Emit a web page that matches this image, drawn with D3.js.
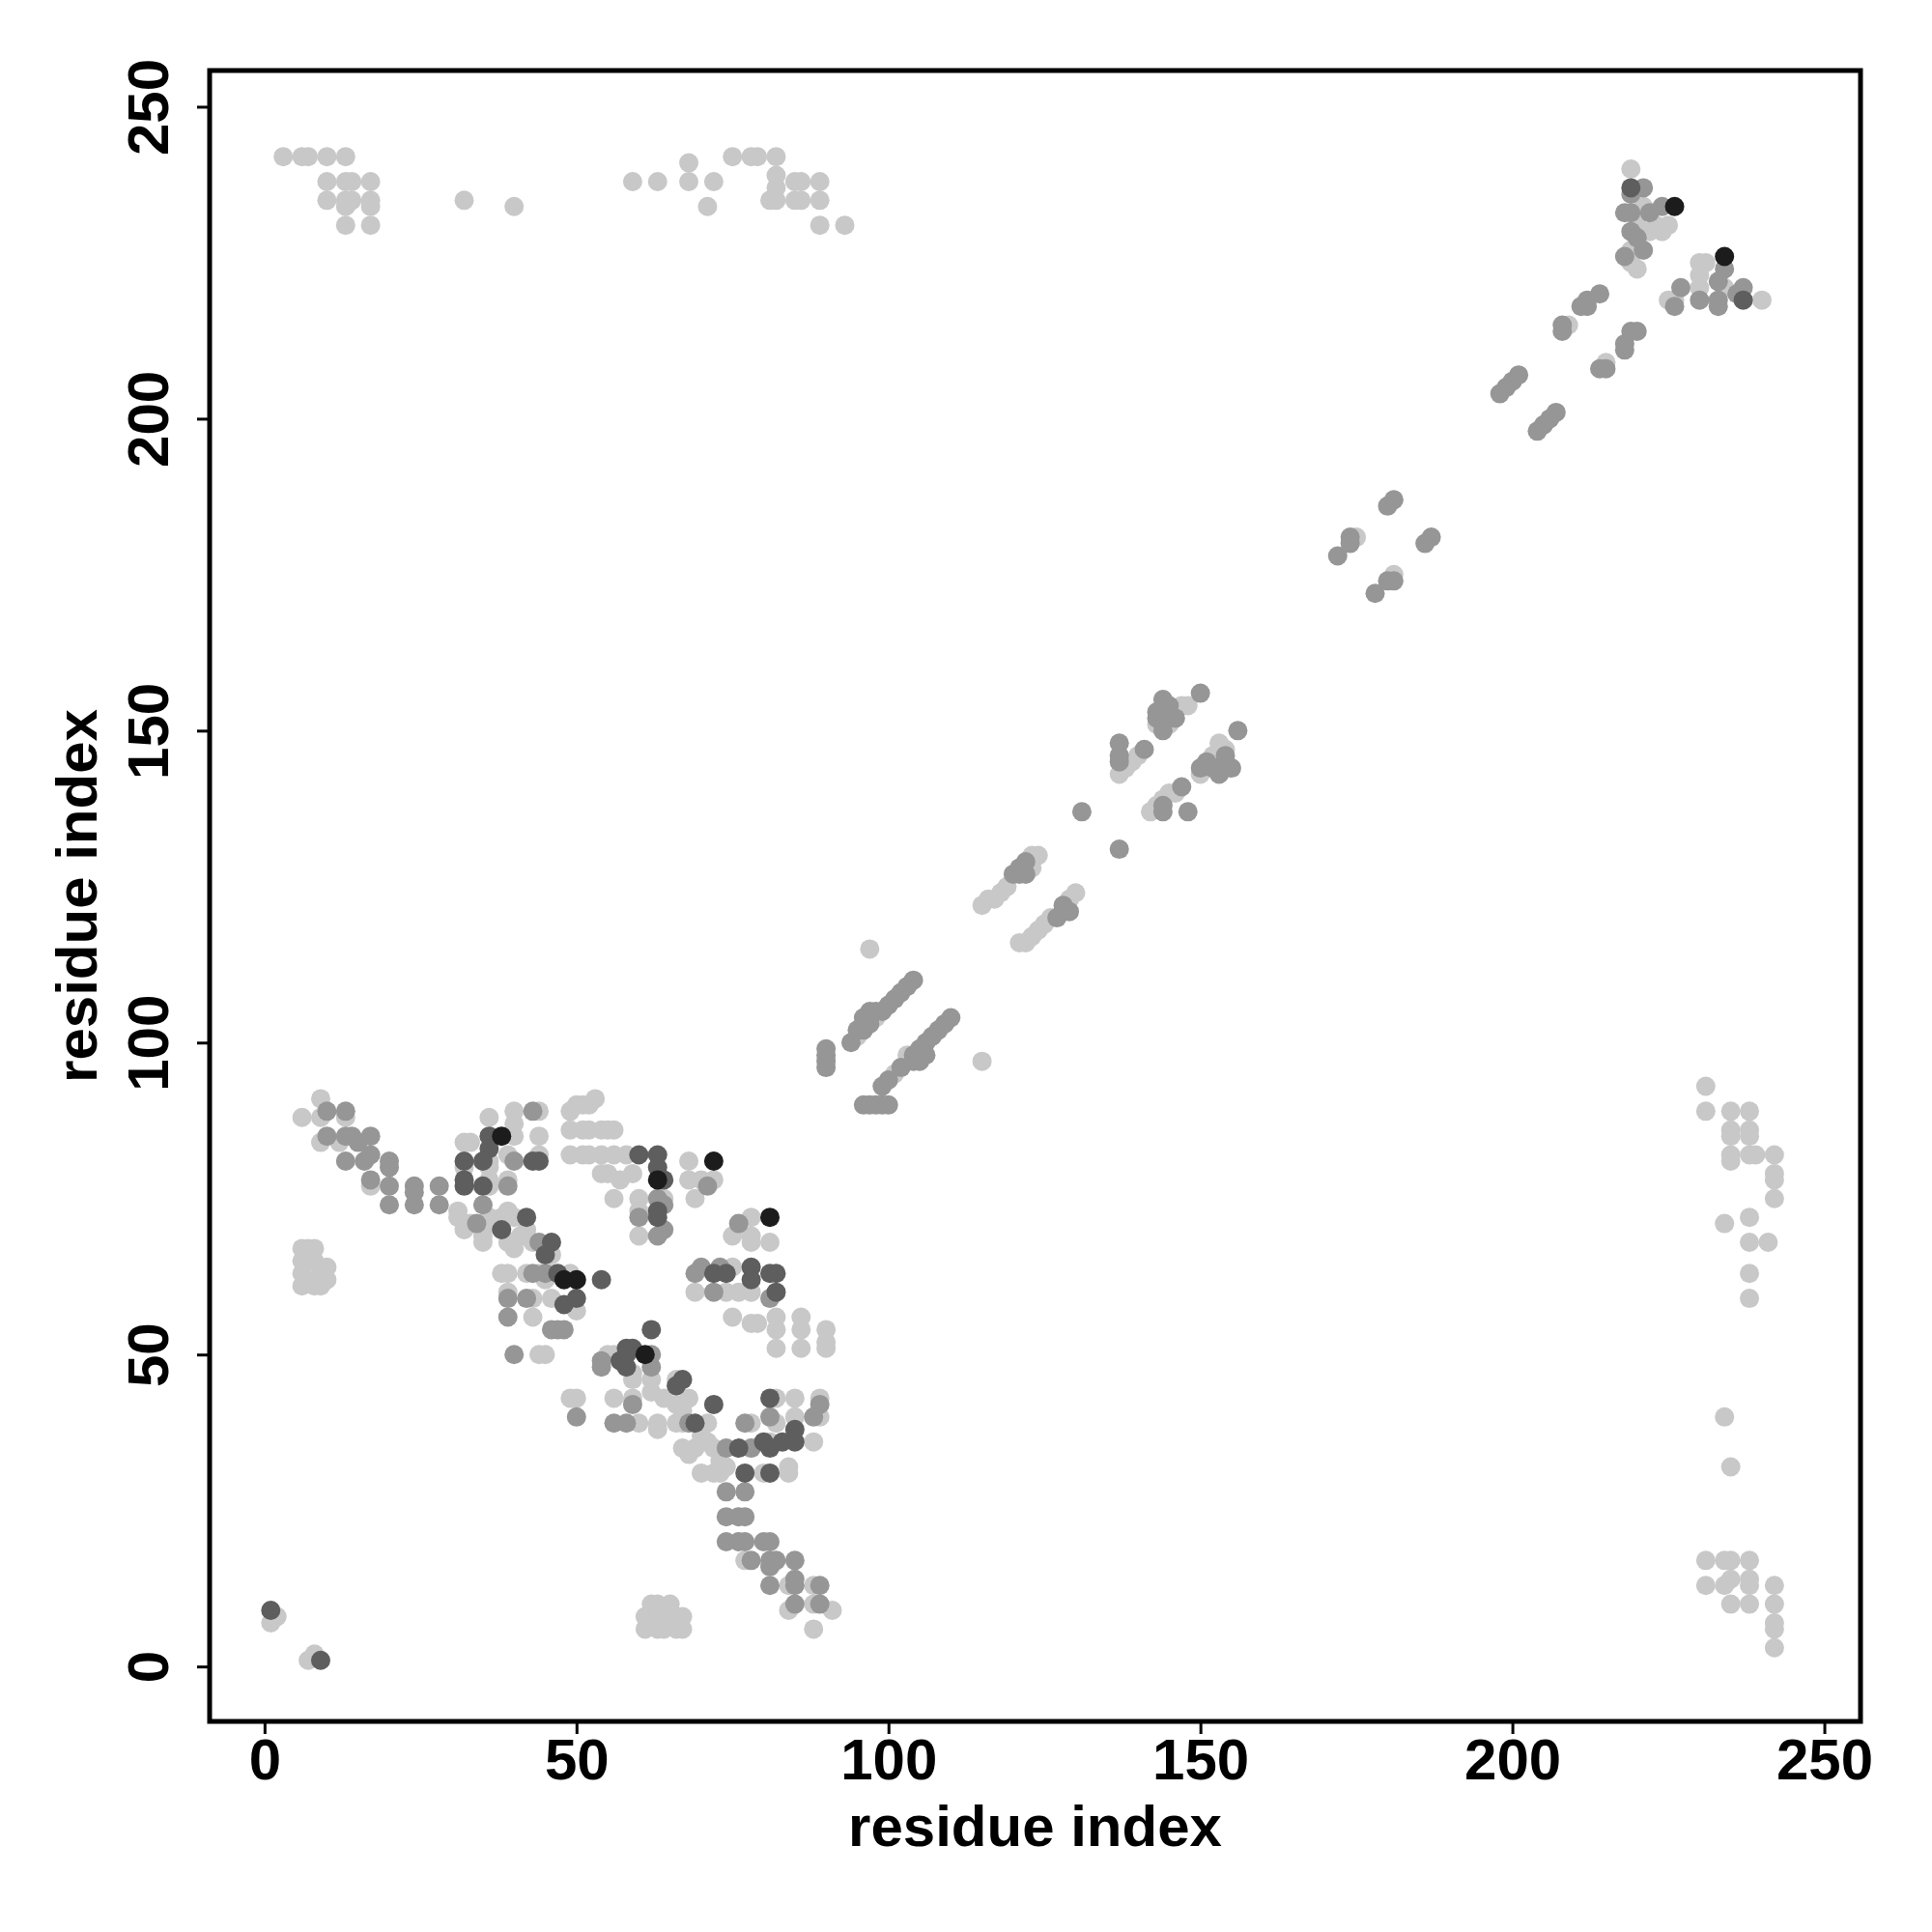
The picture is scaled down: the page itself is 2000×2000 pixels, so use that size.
<!DOCTYPE html>
<html>
<head>
<meta charset="utf-8">
<script src="https://cdn.jsdelivr.net/npm/d3@7"></script>
<style>
  html, body { margin: 0; padding: 0; background: #ffffff; }
  svg { display: block; }
  text { font-family: "Liberation Sans", Arial, Helvetica, sans-serif; font-weight: bold; }
</style>
</head>
<body>
<script>
// ---- data: contacts [residue i, residue j], grouped by shade ----
const lightContacts = [
  [3,242],[6,242],[7,242],[10,242],[13,242],
  [10,238],[13,238],[14,238],[17,238],
  [10,235],[13,235],[14,235],[17,235],[13,234],[17,234],
  [13,231],[17,231],[32,235],[40,234],
  [68,241],[75,242],[78,242],[79,242],[82,242],
  [59,238],[63,238],[68,238],[72,238],[82,239],[82,237],[85,238],[86,238],[89,238],
  [81,235],[82,235],[85,235],[86,235],[89,235],[71,234],[89,231],[93,231],
  [2,8],[1,7],[8,2],[7,1],
  [6,67],[7,67],[8,67],[6,65],[8,65],[6,63],[9,63],[10,64],[6,61],[7,62],[8,61],[10,62],[9,61],
  [61,6],[61,8],[62,10],[63,10],[64,8],[65,10],[66,6],[67,8],[67,6],[63,6],[62,7],[64,6],[66,8],
  [9,91],[6,88],[9,88],[13,88],[9,84],[12,84],[17,77],[32,84],[33,84],[36,88],[40,89],[40,87],
  [44,89],[36,81],[36,80],[39,82],[44,82],[40,85],[44,85],[36,78],[36,77],[39,78],
  [31,72],[32,71],[31,73],[33,71],[32,70],[35,69],[35,68],[38,72],[39,68],[40,67],[42,70],[43,68],
  [46,66],[38,63],[39,63],[42,63],[46,63],[39,60],[43,59],[46,59],[43,56],[44,50],[45,50],
  [49,63],[50,57],[36,72],[37,71],[39,73],[40,72],[41,69],[45,62],[44,63],[32,80],
  [50,90],[51,90],[52,90],[53,91],[49,89],[49,86],[51,86],[52,86],[54,86],[55,86],[56,86],
  [49,82],[51,82],[52,82],[54,82],[56,82],[58,82],[55,79],[57,78],[59,79],[54,79],[56,75],
  [60,75],[60,73],[64,75],[60,69],[68,81],[68,78],[70,78],[72,78],[69,75],[78,72],[75,69],
  [78,69],[81,68],[78,68],[75,64],[69,60],[74,60],[76,60],[78,60],[75,56],[78,55],[79,55],
  [82,56],[82,54],[82,51],[86,56],[86,54],[86,51],[90,54],[90,51],[90,52],[55,50],
  [56,50],[59,47],[59,46],[62,46],[62,44],[66,46],[64,43],[68,43],[50,43],[49,43],[56,43],
  [59,43],[60,39],[63,39],[63,38],[66,39],[67,39],[71,39],[67,35],[68,34],[69,35],[72,35],
  [70,31],[72,31],[73,31],[74,32],[78,39],[78,35],[80,31],[84,32],[84,31],[82,43],[85,43],
  [82,39],[85,40],[81,36],[88,36],[89,43],[89,40],[77,17],[84,13],[88,13],[84,9],[88,10],
  [91,9],[88,6],[66,42],[67,41],[70,37],[71,36],[73,33],
  [95,101],[98,104],[101,95],[103,98],[97,115],[115,97],
  [115,122],[116,123],[117,123],[118,124],[119,125],[123,128],[124,130],[123,130],
  [121,116],[122,116],[123,117],[124,118],[125,119],[126,120],[129,123],[130,124],
  [137,143],[138,144],[139,145],[140,146],[143,151],[147,154],[148,154],[145,151],[146,153],
  [142,137],[143,138],[144,139],[145,140],[146,140],[154,147],[150,143],[152,146],[153,148],
  [175,181],[181,175],[209,215],[215,209],
  [219,240],[221,234],[221,230],[222,230],[224,230],[225,231],[219,227],[219,225],[220,224],
  [225,219],[226,219],[230,225],[231,225],[230,223],[230,221],[234,221],[240,219],[220,231],[223,231],
  [231,93],[231,89],[235,89],[238,89],[235,86],[235,85],[238,86],[238,85],[235,82],[235,81],
  [238,82],[239,82],[242,82],[242,79],[242,78],[242,75],[234,71],[238,72],[238,68],[241,68],
  [238,63],[238,59],[234,40],[235,32],[231,17],[234,17],[235,17],[238,17],[231,13],[234,13],
  [235,14],[238,14],[238,13],[242,13],[235,10],[238,10],[242,10],[242,7],[242,6],[242,3]
];
const mediumContacts = [
  [10,89],[13,89],[10,85],[13,85],[14,85],[17,85],[15,84],[13,81],[16,81],[17,82],[20,81],[20,80],
  [17,78],[20,77],[20,74],[24,77],[24,76],[24,74],[28,77],[28,74],[40,81],[39,77],[34,71],[35,74],
  [43,89],[43,63],[45,63],[39,59],[42,59],[39,56],[47,54],[46,54],[40,50],[48,54],[44,68],
  [60,72],[63,75],[64,74],[64,70],[63,69],[71,77],[76,71],[69,63],[70,64],[73,64],[72,60],[81,59],
  [62,50],[54,49],
  [54,48],[62,48],[59,42],[50,40],[56,39],[58,39],[68,39],[77,39],[74,35],[81,40],[89,42],[88,40],
  [74,28],[77,28],[74,24],[76,24],[77,24],[74,20],[76,20],[77,20],[80,20],[81,20],
  [78,17],[81,17],[81,16],[82,17],[85,17],[81,13],[85,14],[85,13],[89,13],[85,10],[89,10],[78,35],
  [90,99],[90,98],[90,97],[90,96],[96,90],[97,90],[98,90],[99,90],[100,90],
  [94,100],[96,102],[97,103],[99,105],[100,106],[101,107],[102,108],[103,109],[104,110],
  [96,104],[97,105],[98,105],[96,103],[95,102],
  [99,93],[100,94],[102,96],[104,98],[105,99],[106,100],[107,101],[108,102],[109,103],[110,104],
  [105,97],[106,98],[104,97],
  [121,127],[121,128],[122,129],[122,127],[120,127],
  [127,120],[128,121],[129,121],[128,122],
  [131,137],[137,131],
  [137,148],[137,145],[141,147],[137,146],
  [144,155],[143,153],[144,150],[146,152],[150,156],[145,154],[144,152],[143,152],
  [144,137],[148,137],[147,141],[144,138],
  [156,150],[150,144],[151,145],[153,143],[155,144],[152,144],[154,145],[154,146],
  [172,178],[174,181],[174,180],[180,186],[181,187],[178,172],[180,174],[181,174],[186,180],[187,181],
  [198,204],[199,205],[200,206],[201,207],[204,198],[205,199],[206,200],[207,201],
  [208,214],[208,215],[214,208],[215,208],[218,211],[218,212],[219,214],[211,218],[212,218],[214,220],
  [219,236],[221,237],[218,233],[219,233],[222,233],[224,234],[219,230],[221,227],[218,226],
  [212,219],[220,214],[227,221],[226,218],[230,219],[234,224],[233,222],[233,219],[233,218],
  [236,220],[237,221],[220,229]
];
const darkContacts = [
  [1,9],[9,1],[32,77],[32,81],[36,85],[36,83],[35,81],[32,78],[44,81],[43,81],[42,72],[46,68],
  [47,63],[48,58],[50,59],[54,62],[60,82],[63,82],[63,80],[64,78],[63,73],[63,72],[72,63],[74,63],
  [78,64],[81,63],[82,63],[82,60],[62,54],[58,51],[59,51],[58,50],[57,49],[58,48],[67,46],[66,45],
  [72,42],[69,39],[76,35],[77,31],[81,31],[81,43],[80,36],[81,35],[83,36],[85,36],[219,237],[237,219],
  [35,77],[38,70],[45,66],[78,62],[85,38]
];
const blackContacts = [
  [38,85],[48,62],[50,62],[63,78],[72,81],[81,72],[61,50],
  [226,234],[234,226]
];
const shadeColors = ["#c8c8c8", "#969696", "#5e5e5e", "#1c1c1c"];
const axisTicks = [0, 50, 100, 150, 200, 250];
const axisDomain = [-8.8, 255.8];
const xTitle = "residue index";
const yTitle = "residue index";

// ---- drawing ----
const W = 2000, H = 2000;
const box = { left: 217, right: 1926, top: 73, bottom: 1782 };

const svg = d3.select("body").append("svg").attr("width", W).attr("height", H);
svg.append("rect").attr("width", W).attr("height", H).attr("fill", "#fff");

const x = d3.scaleLinear().domain(axisDomain).range([box.left, box.right]);
const y = d3.scaleLinear().domain(axisDomain).range([box.bottom, box.top]);

const groups = [lightContacts, mediumContacts, darkContacts, blackContacts];
const pts = svg.append("g");
groups.forEach((arr, k) => {
  pts.selectAll(null).data(arr).enter().append("circle")
    .attr("cx", d => x(d[0]))
    .attr("cy", d => y(d[1]))
    .attr("r", 10)
    .attr("fill", shadeColors[k]);
});

// box
svg.append("rect")
  .attr("x", box.left).attr("y", box.top)
  .attr("width", box.right - box.left).attr("height", box.bottom - box.top)
  .attr("fill", "none").attr("stroke", "#000").attr("stroke-width", 5);

// x axis
const xa = svg.append("g").attr("transform", `translate(0,${box.bottom + 2})`)
  .call(d3.axisBottom(x).tickValues(axisTicks).tickSize(11).tickPadding(4).tickFormat(d3.format("d")));
xa.select(".domain").remove();
xa.selectAll(".tick line").attr("stroke", "#000").attr("stroke-width", 3);
xa.selectAll(".tick text").attr("font-size", 60).attr("fill", "#000")
  .attr("font-family", "Liberation Sans, Arial, sans-serif").attr("font-weight", "bold");

// y axis
const ya = svg.append("g").attr("transform", `translate(${box.left - 2},0)`)
  .call(d3.axisLeft(y).tickValues(axisTicks).tickSize(11).tickPadding(14).tickFormat(d3.format("d")));
ya.select(".domain").remove();
ya.selectAll(".tick line").attr("stroke", "#000").attr("stroke-width", 3);
ya.selectAll(".tick text")
  .attr("font-size", 60).attr("fill", "#000")
  .attr("font-family", "Liberation Sans, Arial, sans-serif").attr("font-weight", "bold")
  .attr("x", null).attr("dy", null)
  .attr("text-anchor", "middle")
  .attr("dominant-baseline", "central")
  .attr("transform", "translate(-62,0) rotate(-90)");

// titles
svg.append("text")
  .attr("x", (box.left + box.right) / 2).attr("y", 1890)
  .attr("text-anchor", "middle").attr("dominant-baseline", "central")
  .attr("font-size", 60).attr("fill", "#000")
  .text(xTitle);
svg.append("text")
  .attr("transform", `translate(79,${(box.top + box.bottom) / 2}) rotate(-90)`)
  .attr("text-anchor", "middle").attr("dominant-baseline", "central")
  .attr("font-size", 60).attr("fill", "#000")
  .text(yTitle);
</script>
</body>
</html>
